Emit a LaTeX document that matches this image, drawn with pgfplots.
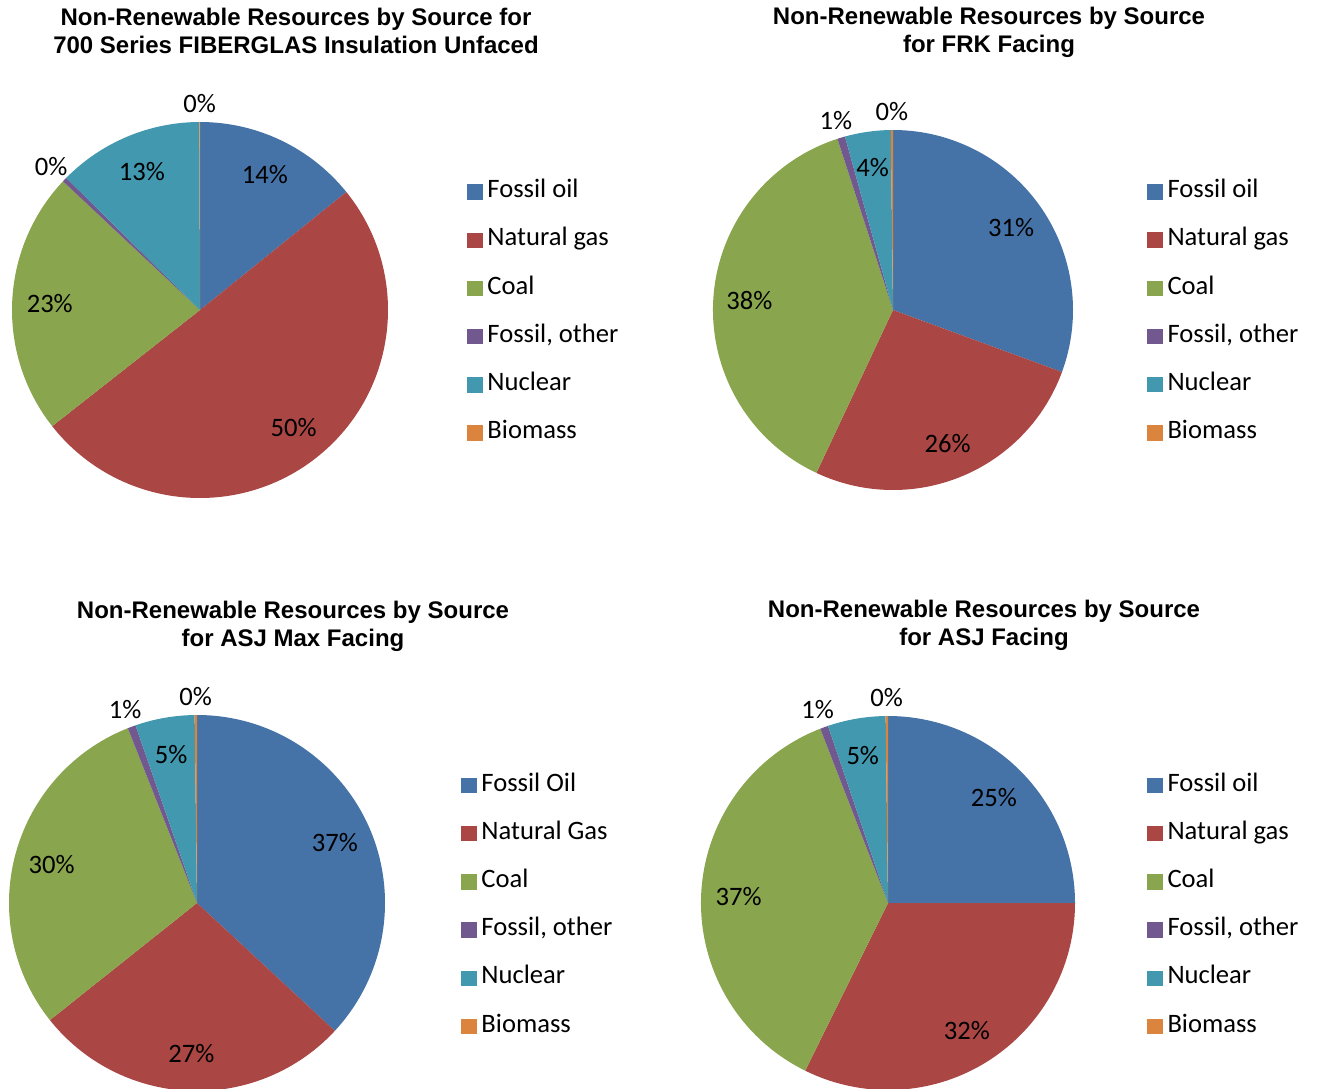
\documentclass[border=0pt]{standalone}
\usepackage{pgfplots}
\pgfplotsset{compat=1.18}
\usepackage{pgfplotstable}
\usepackage{fontspec}
\setmainfont{Carlito}
\newfontfamily\titlefont{Liberation Sans}

\definecolor{pc0}{HTML}{4572A7}
\definecolor{pc1}{HTML}{AA4643}
\definecolor{pc2}{HTML}{89A54E}
\definecolor{pc3}{HTML}{71588F}
\definecolor{pc4}{HTML}{4198AF}
\definecolor{pc5}{HTML}{DB843D}

\newcommand\lblfont{\fontsize{26.6bp}{31bp}\selectfont}
\newcommand\ttlfont{\titlefont\bfseries\fontsize{24bp}{28bp}\selectfont}

% shares in percent: fossil oil, natural gas, coal, fossil other, nuclear, biomass
\pgfplotstableread{
value
14.2
50.2
22.6
0.4
12.55
0.05
}\pieA
\pgfplotstableread{
value
30.6
26.4
38.0
0.7
4.1
0.2
}\pieB
\pgfplotstableread{
value
36.9
27.4
29.7
0.7
5.1
0.2
}\pieC
\pgfplotstableread{
value
25.0
32.3
36.8
0.7
5.0
0.2
}\pieD

% #1 table, #2 radius in bp; slices clockwise from 12 o'clock
\newcommand\drawpie[2]{%
  \def\cum{0}%
  \pgfplotsforeachungrouped \i in {0,...,5}{%
    \pgfplotstablegetelem{\i}{value}\of{#1}\let\v\pgfplotsretval
    \pgfmathsetmacro\a{90-3.6*\cum}%
    \pgfmathsetmacro\b{90-3.6*(\cum+\v)}%
    \pgfmathsetmacro\m{(\a+\b)/2}%
    \pgfmathsetmacro\cum{\cum+\v}%
    \pgfmathtruncatemacro\pv{round(\v)}%
    \pgfmathsetmacro\rr{\v<3 ? 1.10*#2 : 0.8*#2}%
    \edef\tmp{%
      \noexpand\fill[pc\i] (axis cs:0,0) -- ++(\a:#2bp)
        arc[start angle=\a, end angle=\b, radius=#2bp] -- cycle;
      \noexpand\path (axis cs:0,0) ++(\m:\rr bp)
        node[font=\noexpand\lblfont, inner sep=0pt] {\pv\noexpand\%};}%
    \tmp
  }%
}

\pgfplotsset{
  pie/.style={
    hide axis, scale only axis, clip=false,
    width=#1, height=#1,
    xmin=-1, xmax=1, ymin=-1, ymax=1,
    anchor=origin,
    legend cell align=left,
    legend image code/.code={\fill[##1] (0bp,-7.2bp) rectangle (14.4bp,7.2bp);},
    legend style={draw=none, fill=none, anchor=west, inner sep=0pt,
      font=\lblfont, column sep=5.5bp, row sep=24.2bp,
      nodes={inner sep=0pt, text height=18bp, text depth=6bp}},
  },
}

\begin{document}
\begin{tikzpicture}
\path[use as bounding box] (0,0) rectangle (1317bp,-1089bp);

\node[font=\ttlfont, anchor=base, inner sep=0pt] at (296bp,-25bp) {Non-Renewable Resources by Source for};
\node[font=\ttlfont, anchor=base, inner sep=0pt] at (296bp,-53bp) {700 Series FIBERGLAS Insulation Unfaced};
\node[font=\ttlfont, anchor=base, inner sep=0pt] at (989bp,-24bp) {Non-Renewable Resources by Source};
\node[font=\ttlfont, anchor=base, inner sep=0pt] at (989bp,-52bp) {for FRK Facing};
\node[font=\ttlfont, anchor=base, inner sep=0pt] at (293bp,-618bp) {Non-Renewable Resources by Source};
\node[font=\ttlfont, anchor=base, inner sep=0pt] at (293bp,-646bp) {for ASJ Max Facing};
\node[font=\ttlfont, anchor=base, inner sep=0pt] at (984bp,-617bp) {Non-Renewable Resources by Source};
\node[font=\ttlfont, anchor=base, inner sep=0pt] at (984bp,-645bp) {for ASJ Facing};

\begin{axis}[pie=376bp, at={(200bp,-310bp)},
  legend style={at={(axis description cs:1.210,0.494)}}]
  \drawpie{\pieA}{188}
  \addlegendimage{pc0}\addlegendentry{Fossil oil}
  \addlegendimage{pc1}\addlegendentry{Natural gas}
  \addlegendimage{pc2}\addlegendentry{Coal}
  \addlegendimage{pc3}\addlegendentry{Fossil, other}
  \addlegendimage{pc4}\addlegendentry{Nuclear}
  \addlegendimage{pc5}\addlegendentry{Biomass}
\end{axis}

\begin{axis}[pie=360bp, at={(893bp,-310bp)},
  legend style={at={(axis description cs:1.2056,0.494)}}]
  \drawpie{\pieB}{180}
  \addlegendimage{pc0}\addlegendentry{Fossil oil}
  \addlegendimage{pc1}\addlegendentry{Natural gas}
  \addlegendimage{pc2}\addlegendentry{Coal}
  \addlegendimage{pc3}\addlegendentry{Fossil, other}
  \addlegendimage{pc4}\addlegendentry{Nuclear}
  \addlegendimage{pc5}\addlegendentry{Biomass}
\end{axis}

\begin{axis}[pie=376bp, at={(197bp,-903bp)},
  legend style={at={(axis description cs:1.202,0.493)}}]
  \drawpie{\pieC}{188}
  \addlegendimage{pc0}\addlegendentry{Fossil Oil}
  \addlegendimage{pc1}\addlegendentry{Natural Gas}
  \addlegendimage{pc2}\addlegendentry{Coal}
  \addlegendimage{pc3}\addlegendentry{Fossil, other}
  \addlegendimage{pc4}\addlegendentry{Nuclear}
  \addlegendimage{pc5}\addlegendentry{Biomass}
\end{axis}

\begin{axis}[pie=374bp, at={(888bp,-903bp)},
  legend style={at={(axis description cs:1.1925,0.493)}}]
  \drawpie{\pieD}{187}
  \addlegendimage{pc0}\addlegendentry{Fossil oil}
  \addlegendimage{pc1}\addlegendentry{Natural gas}
  \addlegendimage{pc2}\addlegendentry{Coal}
  \addlegendimage{pc3}\addlegendentry{Fossil, other}
  \addlegendimage{pc4}\addlegendentry{Nuclear}
  \addlegendimage{pc5}\addlegendentry{Biomass}
\end{axis}
\end{tikzpicture}
\end{document}
